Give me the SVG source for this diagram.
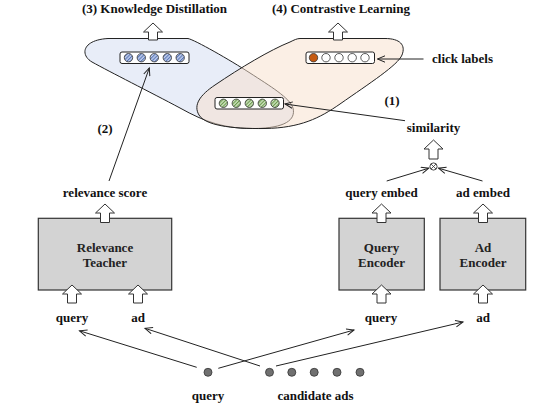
<svg xmlns="http://www.w3.org/2000/svg" width="557" height="405" viewBox="0 0 557 405">
<defs>
<style>
text{font-family:"Liberation Serif","Times New Roman",serif;font-weight:bold;font-size:13px;fill:#111;text-anchor:middle}
.box{fill:#d3d3d3;stroke:#333;stroke-width:1.2}
.boxt{fill:#222}
.blk{fill:#fff;stroke:#333;stroke-width:1}
.vec{fill:#fff;stroke:#222;stroke-width:1}
.cb{fill:url(#hb);stroke:#333;stroke-width:0.8}
.cg{fill:url(#hg);stroke:#333;stroke-width:0.8}
.cw{fill:#fff;stroke:#333;stroke-width:0.8}
.dot{fill:#707070;stroke:#333;stroke-width:0.8}
.con{fill:none;stroke:#222;stroke-width:1;marker-end:url(#ah)}
</style>
<pattern id="hb" patternUnits="userSpaceOnUse" width="2.5" height="2.5" patternTransform="rotate(45)">
<rect width="2.5" height="2.5" fill="#c3d0ee"/><rect width="1.1" height="2.5" fill="#5a78b8"/>
</pattern>
<pattern id="hg" patternUnits="userSpaceOnUse" width="2.5" height="2.5" patternTransform="rotate(45)">
<rect width="2.5" height="2.5" fill="#cfe4c0"/><rect width="1.1" height="2.5" fill="#6a9a4c"/>
</pattern>
<marker id="ah" markerUnits="userSpaceOnUse" markerWidth="10" markerHeight="8" refX="8" refY="4" orient="auto">
<path d="M0.5,0.8 L8,4 L0.5,7.2" fill="none" stroke="#222" stroke-width="1"/>
</marker>
</defs>

<g id="blob-kd">
<path d="M108,38.5 L188,38.5 C195,40 230,60 250,73 C270,86 290,98 293,108 C296,120 285,128 255,128.5 C225,129 205,122 180,108 C150,92 110,72 92,62 C80,55 82,40 108,38.5 Z" fill="#e8edf8" stroke="#222" stroke-width="1"/>
</g>
<g id="blob-cl">
<path d="M300,38.5 L385,38.5 C400,38.5 406,45 402,55 C398,65 370,83 340,104 C320,118 300,128 265,128.5 C230,129 205,125 199,115 C193,105 200,95 215,85 C240,68 270,50 290,42 C294,40 297,38.5 300,38.5 Z" fill="#f8dfcc" fill-opacity="0.5" stroke="#222" stroke-width="1"/>
</g>

<g id="title-kd"><text x="154.5" y="13">(3) Knowledge Distillation</text></g>
<g id="title-cl"><text x="341" y="13">(4) Contrastive Learning</text></g>

<g id="up-arrows">
<path class="blk" d="M153,23 L162.5,32 L157.5,32 L157.5,40 L148.5,40 L148.5,32 L143.5,32 Z"/>
<path class="blk" d="M338,23 L347.5,32 L342.5,32 L342.5,40 L333.5,40 L333.5,32 L328.5,32 Z"/>
<path class="blk" d="M433.5,140 L443,149 L438,149 L438,159 L429,159 L429,149 L424,149 Z"/>
</g>

<g id="vec-teacher">
<rect class="vec" x="120" y="52" width="69" height="11.5" rx="2"/>
<circle class="cb" cx="128.5" cy="57.7" r="4.2"/>
<circle class="cb" cx="141.3" cy="57.7" r="4.2"/>
<circle class="cb" cx="154.3" cy="57.7" r="4.2"/>
<circle class="cb" cx="167.3" cy="57.7" r="4.2"/>
<circle class="cb" cx="180.2" cy="57.7" r="4.2"/>
</g>
<g id="vec-similarity">
<rect class="vec" x="215" y="97.5" width="68.5" height="11.5" rx="2"/>
<circle class="cg" cx="223.4" cy="103.3" r="4.2"/>
<circle class="cg" cx="236.3" cy="103.3" r="4.2"/>
<circle class="cg" cx="249.3" cy="103.3" r="4.2"/>
<circle class="cg" cx="262.3" cy="103.3" r="4.2"/>
<circle class="cg" cx="275" cy="103.3" r="4.2"/>
</g>
<g id="vec-click">
<rect class="vec" x="306" y="52" width="68.5" height="11.5" rx="2"/>
<circle cx="313.5" cy="57.7" r="4.2" fill="#c55a11" stroke="#333" stroke-width="0.8"/>
<circle class="cw" cx="326" cy="57.7" r="4.2"/>
<circle class="cw" cx="339" cy="57.7" r="4.2"/>
<circle class="cw" cx="352.2" cy="57.7" r="4.2"/>
<circle class="cw" cx="365" cy="57.7" r="4.2"/>
</g>

<g id="label-click"><text x="432" y="63" style="text-anchor:start">click labels</text></g>
<g id="label-1"><text x="392" y="105">(1)</text></g>
<g id="label-similarity"><text x="433.5" y="132">similarity</text></g>
<g id="label-2"><text x="105" y="133">(2)</text></g>

<g id="otimes">
<circle cx="433.5" cy="166.5" r="3.6" fill="#fff" stroke="#333" stroke-width="0.9"/>
<path d="M431,164 L436,169 M436,164 L431,169" stroke="#333" stroke-width="0.8"/>
</g>

<g id="label-relscore"><text x="105" y="196.5">relevance score</text></g>
<g id="label-qemb"><text x="381.5" y="196.5">query embed</text></g>
<g id="label-aemb"><text x="483" y="196.5">ad embed</text></g>

<g id="teacher">
<rect class="box" x="38.3" y="218.3" width="133.4" height="71.7"/>
<text class="boxt" x="105" y="251.5">Relevance</text>
<text class="boxt" x="105" y="267">Teacher</text>
</g>
<g id="query-encoder">
<rect class="box" x="339" y="218.3" width="85.3" height="71.7"/>
<text class="boxt" x="381.5" y="251.5">Query</text>
<text class="boxt" x="381.5" y="267">Encoder</text>
</g>
<g id="ad-encoder">
<rect class="box" x="440" y="218.3" width="85.7" height="71.7"/>
<text class="boxt" x="483" y="251.5">Ad</text>
<text class="boxt" x="483" y="267">Encoder</text>
</g>

<g id="box-arrows">
<path class="blk" d="M105,204 L114.5,213 L109.5,213 L109.5,222.5 L100.5,222.5 L100.5,213 L95.5,213 Z"/>
<path class="blk" d="M381.5,204 L391,213 L386,213 L386,222.5 L377,222.5 L377,213 L372,213 Z"/>
<path class="blk" d="M483,204 L492.5,213 L487.5,213 L487.5,222.5 L478.5,222.5 L478.5,213 L473.5,213 Z"/>
<path class="blk" d="M72,285 L81.5,294 L76.5,294 L76.5,303 L67.5,303 L67.5,294 L62.5,294 Z"/>
<path class="blk" d="M138,285 L147.5,294 L142.5,294 L142.5,303 L133.5,303 L133.5,294 L128.5,294 Z"/>
<path class="blk" d="M381.5,285 L391,294 L386,294 L386,303 L377,303 L377,294 L372,294 Z"/>
<path class="blk" d="M483,285 L492.5,294 L487.5,294 L487.5,303 L478.5,303 L478.5,294 L473.5,294 Z"/>
</g>

<g id="inputs">
<text x="72" y="321.5">query</text>
<text x="138" y="321.5">ad</text>
<text x="381" y="321.5">query</text>
<text x="483" y="321.5">ad</text>
</g>

<g id="query-node">
<circle class="dot" cx="208" cy="372.3" r="4"/>
<text x="208" y="400">query</text>
</g>
<g id="candidate-ads">
<circle class="dot" cx="269.5" cy="372.3" r="4"/>
<circle class="dot" cx="291.8" cy="372.3" r="4"/>
<circle class="dot" cx="314.2" cy="372.3" r="4"/>
<circle class="dot" cx="337" cy="372.3" r="4"/>
<circle class="dot" cx="360" cy="372.3" r="4"/>
<text x="315.5" y="400">candidate ads</text>
</g>

<g id="connectors">
<path class="con" d="M196.7,367.3 L79.5,330.8"/>
<path class="con" d="M260,366 L145,328.3"/>
<path class="con" d="M218.3,368.3 L354,330"/>
<path class="con" d="M276,366 L463,322"/>
<path class="con" d="M109,181 L149.3,68"/>
<path class="con" d="M423.5,59 L377.5,59"/>
<path class="con" d="M405,120.7 L285,104"/>
<path class="con" d="M386.7,181 L428.8,168.2"/>
<path class="con" d="M482.5,181 L438.5,168.2"/>
</g>
</svg>
